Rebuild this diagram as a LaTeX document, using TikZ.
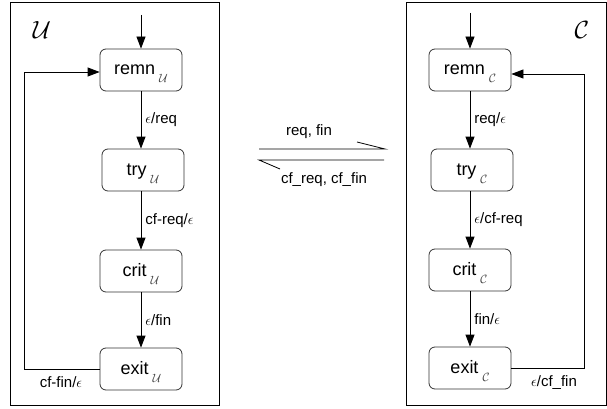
\documentclass[tikz,border=0pt]{standalone}
\usepackage{fontspec}
\setmainfont{Liberation Sans}
\usetikzlibrary{arrows.meta}
\newcommand\stsub[1]{\hspace{4pt}\smash{\raisebox{-8pt}{\fontsize{13}{13}\selectfont\color{black!75}$\mathcal{#1}$}}}
\begin{document}
\begin{tikzpicture}[x=1pt,y=-1pt,
  state/.style={draw=black!80, line width=0.8pt, rounded corners=6pt, minimum width=82pt, minimum height=42pt,
    inner sep=0pt, text height=13pt, text depth=3pt, font=\fontsize{18}{20}\selectfont},
  lbl/.style={font=\fontsize{15}{17}\selectfont, inner sep=1pt},
  tr/.style={-{Triangle[length=12pt,width=9pt]}, line width=0.8pt},
  plain/.style={line width=0.8pt},
  frame/.style={line width=1pt}]
\useasboundingbox (0,0) rectangle (607,409);

% frames
\draw[frame] (10,3) rectangle (219,405);
\draw[frame] (406,3) rectangle (606,405);
\node (nameU) at (42,30) {\fontsize{24}{24}\selectfont$\mathcal{U}$};
\node (nameC) at (582,30) {\fontsize{24}{24}\selectfont$\mathcal{C}$};

% left automaton
\node[state] (remnU) at (141,70) {remn\stsub{U}};
\node[state] (tryU)  at (143,170) {try\stsub{U}};
\node[state] (critU) at (141,271) {crit\stsub{U}};
\node[state] (exitU) at (141,369) {exit\stsub{U}};
\coordinate (inU) at (141,15);
\coordinate (lu) at (24,0);

\draw[tr] (inU) -- (remnU.north);
\draw[tr] (remnU.south) -- (remnU.south |- tryU.north) node[lbl, midway, right=3pt] {$\epsilon$/req};
\draw[tr] (critU.north |- tryU.south) -- (critU.north) node[lbl, midway, right=3pt] {cf-req/$\epsilon$};
\draw[tr] (critU.south) -- (exitU.north) node[lbl, midway, right=3pt] {$\epsilon$/fin};
\draw[tr] (exitU.west) -- (exitU.west -| lu) -- ([yshift=-2pt]remnU.west -| lu) -- ([yshift=-2pt]remnU.west);
\node[lbl] (lblU) at (61,382) {cf-fin/$\epsilon$};

% right automaton
\node[state] (remnC) at (470,70) {remn\stsub{C}};
\node[state] (tryC)  at (472,170) {try\stsub{C}};
\node[state] (critC) at (470,270) {crit\stsub{C}};
\node[state] (exitC) at (470,368) {exit\stsub{C}};
\coordinate (inC) at (470,13);
\coordinate (lc) at (584,0);

\draw[tr] (inC) -- (remnC.north);
\draw[tr] (remnC.south) -- (remnC.south |- tryC.north) node[lbl, midway, right=3pt] {req/$\epsilon$};
\draw[tr] (critC.north |- tryC.south) -- (critC.north) node[lbl, midway, right=3pt] {$\epsilon$/cf-req};
\draw[tr] (critC.south) -- (exitC.north) node[lbl, midway, right=3pt] {fin/$\epsilon$};
\draw[tr] (exitC.east) -- (exitC.east -| lc) -- ([yshift=-4pt]remnC.east -| lc) -- ([yshift=-4pt]remnC.east);
\node[lbl] (lblC) at (554,383) {$\epsilon$/cf\_fin};

% communication harpoons
\coordinate (a1) at (259,149);
\coordinate (a2) at (385,149);
\coordinate (ab) at (357,142);
\coordinate (b1) at (384,160);
\coordinate (b2) at (259,160);
\coordinate (bb) at (280,169);
\draw[plain] (a1) -- (a2) -- (ab);
\draw[plain] (b1) -- (b2) -- (bb);
\node[lbl] (sendlbl) at (309,132) {req, fin};
\node[lbl] (recvlbl) at (324,180) {cf\_req, cf\_fin};
\end{tikzpicture}
\end{document}
